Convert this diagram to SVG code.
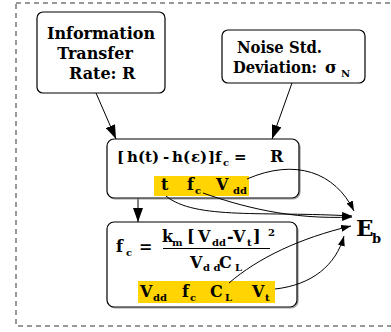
<svg xmlns="http://www.w3.org/2000/svg" width="391" height="332" viewBox="0 0 391 332">
<defs>
<marker id="big" markerWidth="14" markerHeight="10" refX="14" refY="5" orient="auto" markerUnits="userSpaceOnUse"><path d="M0,0 L14,5 L0,10 Z" fill="#000"/></marker>
<marker id="sm" markerWidth="10" markerHeight="7" refX="10" refY="3.5" orient="auto" markerUnits="userSpaceOnUse"><path d="M0,0 L10,3.5 L0,7 Z" fill="#000"/></marker>
<style>
.box{fill:#fff;stroke:#000;stroke-width:1.2}
.sh{fill:none;stroke:#999;stroke-width:1.2}
.t{font-family:"DejaVu Serif",serif;font-weight:bold;font-size:16px;fill:#000}
.r{font-family:"DejaVu Serif",serif;font-weight:bold;font-size:15px;fill:#000}
.s{font-family:"DejaVu Serif",serif;font-weight:bold;font-size:10px;fill:#000}
.hl{fill:#ffd400}
.c{fill:none;stroke:#000;stroke-width:1}
</style>
</defs>
<rect x="16" y="3" width="400" height="323" fill="none" stroke="#333" stroke-width="1" stroke-dasharray="5,4"/>
<g id="connectors">
<path class="c" d="M96,93 L116,139" marker-end="url(#big)"/>
<path class="c" d="M292,83 L272,139" marker-end="url(#big)"/>
<path class="c" d="M138,198 L138,222" marker-end="url(#big)"/>
</g>
<g id="n1">
<rect class="box" x="37" y="12" width="128" height="81" rx="6"/>
<text class="t" x="101" y="39" text-anchor="middle">Information</text>
<text class="t" x="95" y="59" text-anchor="middle">Transfer</text>
<text class="t" x="69" y="79">Rate:</text>
<text class="t" x="122" y="79">R</text>
</g>
<g id="n2">
<rect class="box" x="222" y="30" width="143" height="53" rx="6"/>
<text class="t" x="237" y="53" textLength="85" lengthAdjust="spacingAndGlyphs">Noise Std.</text>
<text class="t" x="233" y="73" textLength="84" lengthAdjust="spacingAndGlyphs">Deviation:</text>
<text class="t" x="325" y="73">σ</text>
<text class="s" x="341" y="77">N</text>
</g>
<g id="n3">
<rect class="sh" x="108" y="140" width="192" height="59" rx="7"/>
<rect class="box" x="107" y="139" width="192" height="59" rx="7"/>
<rect class="hl" x="154" y="176" width="95" height="20"/>
<text class="r" x="117" y="162">[</text>
<text class="r" x="127" y="162">h(t)</text>
<text class="r" x="163" y="162">-</text>
<text class="r" x="172" y="162">h(</text>
<text class="r" x="191" y="162">ε)</text>
<text class="r" x="208" y="162">]</text>
<text class="r" x="215" y="162">f</text>
<text class="s" x="223" y="166">c</text>
<text class="r" x="234" y="162">=</text>
<text class="t" x="270" y="162">R</text>
<text class="t" x="161" y="190">t</text>
<text class="t" x="187" y="190">f</text>
<text class="s" x="195" y="194">c</text>
<text class="t" x="216" y="190">V</text>
<text class="s" x="233" y="194">dd</text>
</g>
<g id="n4">
<rect class="sh" x="108" y="223" width="190" height="85" rx="7"/>
<rect class="box" x="107" y="222" width="190" height="85" rx="7"/>
<rect class="hl" x="138" y="281" width="137" height="22"/>
<text class="t" x="116" y="252">f</text>
<text class="s" x="126" y="256">c</text>
<text class="t" x="139" y="252">=</text>
<text class="t" x="162" y="242">k</text>
<text class="s" x="172" y="246">m</text>
<text class="t" x="187" y="242">[</text>
<text class="t" x="198" y="242">V</text>
<text class="s" x="212" y="246">dd</text>
<text class="t" x="227" y="242">-</text>
<text class="t" x="233" y="242">V</text>
<text class="s" x="247" y="246">t</text>
<text class="t" x="253" y="242">]</text>
<text class="s" x="268" y="236">2</text>
<line x1="163" y1="248.5" x2="270" y2="248.5" stroke="#000" stroke-width="1"/>
<text class="t" x="190" y="268">V</text>
<text class="s" x="203" y="271">d d</text>
<text class="t" x="219" y="268">C</text>
<text class="s" x="235" y="271">L</text>
<text class="t" x="140" y="297">V</text>
<text class="s" x="153" y="301">dd</text>
<text class="t" x="182" y="297">f</text>
<text class="s" x="190" y="301">c</text>
<text class="t" x="210" y="297">C</text>
<text class="s" x="225" y="301">L</text>
<text class="t" x="252" y="297">V</text>
<text class="s" x="265" y="301">t</text>
</g>
<g id="eb">
<text class="t" x="356" y="236" style="font-size:23px">E</text>
<text class="s" x="372" y="243" style="font-size:13px">b</text>
</g>
<g id="connectors2">
<path class="c" d="M247,179 C295,158 335,172 354,211" marker-end="url(#sm)"/>
<path class="c" d="M166,196 C195,220 265,211 352,216" marker-end="url(#sm)"/>
<path class="c" d="M203,193 C240,206 290,220 352,217" marker-end="url(#sm)"/>
<path class="c" d="M229,283 C258,258 300,238 351,226" marker-end="url(#sm)"/>
<path class="c" d="M275,289 C312,285 336,265 344,236" marker-end="url(#sm)"/>
</g>
</svg>
